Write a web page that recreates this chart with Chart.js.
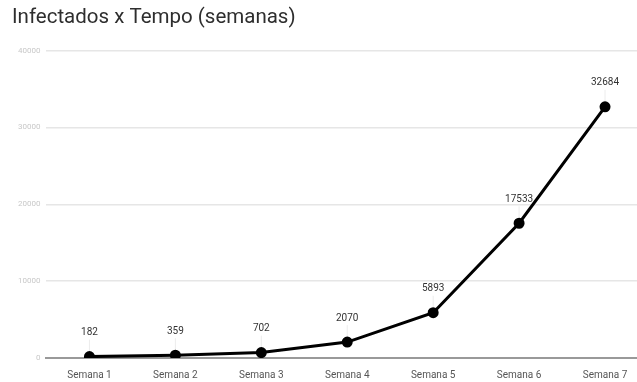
<!DOCTYPE html>
<html>
<head>
<meta charset="utf-8">
<script src="https://cdn.jsdelivr.net/npm/chart.js@4"></script>
<style>
  html, body { margin: 0; padding: 0; background: #fff; overflow: hidden; }
  #wrap { width: 655px; height: 394px; position: relative; }
</style>
</head>
<body>
<div id="wrap"><canvas id="grafico"></canvas></div>
<script>
// semanas e casos acumulados
const semanas = ["Semana 1", "Semana 2", "Semana 3", "Semana 4", "Semana 5", "Semana 6", "Semana 7"];
const infectados = [182, 359, 702, 2070, 5893, 17533, 32684];
const ticksY = [0, 10000, 20000, 30000, 40000];

// escreve o valor acima de cada ponto, com um fio fino ate o ponto
const rotulos = {
  id: "rotulos",
  afterDatasetsDraw(chart) {
    const ctx = chart.ctx;
    const meta = chart.getDatasetMeta(0);
    ctx.save();
    meta.data.forEach((pt, i) => {
      ctx.strokeStyle = "rgba(0,0,0,0.08)";
      ctx.lineWidth = 1;
      ctx.beginPath();
      ctx.moveTo(pt.x, pt.y - 17);
      ctx.lineTo(pt.x, pt.y - 5);
      ctx.stroke();
      ctx.fillStyle = "#333";
      ctx.font = "10px Roboto";
      ctx.textAlign = "center";
      ctx.textBaseline = "middle";
      ctx.fillText(infectados[i], pt.x, pt.y - 24);
    });
    ctx.restore();
  }
};

const config = {
  type: "line",
  data: {
    labels: semanas,
    datasets: [{
      label: "Infectados",
      data: infectados,
      borderColor: "#000",
      backgroundColor: "#000",
      borderWidth: 3,
      pointRadius: 4,
      pointHoverRadius: 4,
      tension: 0
    }]
  },
  options: {
    responsive: true,
    maintainAspectRatio: false,
    animation: false,
    layout: { padding: { top: 0, left: 12, right: 0, bottom: 2 } },
    plugins: {
      legend: { display: false },
      tooltip: { enabled: false },
      title: {
        display: true,
        text: "Infectados x Tempo (semanas)",
        align: "start",
        color: "#2e2e2e",
        font: { family: "Roboto", size: 20.5, weight: "normal" },
        padding: { top: 6, bottom: 20 }
      }
    },
    scales: {
      x: {
        offset: true,
        grid: { display: false, drawTicks: false },
        border: { color: "#999", width: 2 },
        ticks: {
          color: "#555",
          font: { family: "Roboto", size: 10 },
          padding: 11,
          maxRotation: 0
        }
      },
      y: {
        min: 0,
        max: 40000,
        afterBuildTicks(axis) {
          axis.ticks = ticksY.map(v => ({ value: v }));
        },
        grid: { color: "#e6e6e6", lineWidth: 1.5, drawTicks: false },
        border: { display: false },
        ticks: {
          color: "#c8c8c8",
          font: { family: "Roboto", size: 8 },
          padding: 6,
          callback: v => String(v)
        }
      }
    }
  },
  plugins: [rotulos]
};

let grafico = new Chart(document.getElementById("grafico").getContext("2d"), config);
</script>
</body>
</html>
